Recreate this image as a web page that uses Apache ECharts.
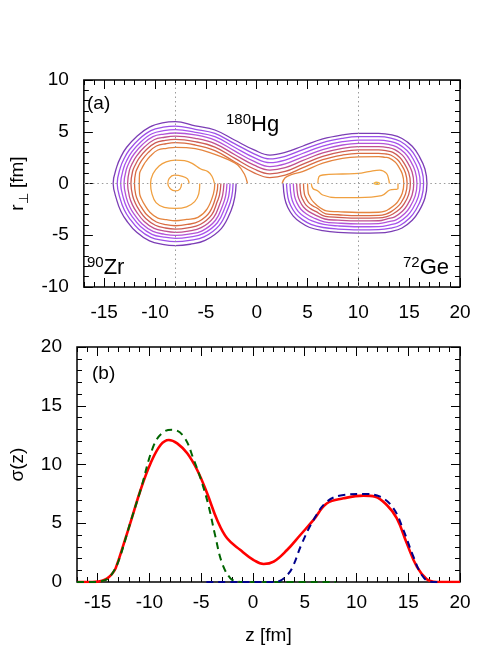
<!DOCTYPE html>
<html>
<head>
<meta charset="utf-8">
<script src="https://cdn.jsdelivr.net/npm/echarts@6/dist/echarts.min.js"></script>
<style>
html,body{margin:0;padding:0;background:#fff;}
#chart{width:479px;height:670px;}
</style>
</head>
<body>
<div id="chart"></div>
<script>
// ---------------- DATA ----------------
const zTicks = [-15, -10, -5, 0, 5, 10, 15, 20];
const rTicks = [-10, -5, 0, 5, 10];
const sigmaTicks = [0, 5, 10, 15, 20];
const guideZ = [-8, 10];
const guideR = [0];

// Panel (a): contour paths [z, r_perp] (outer -> inner)
const level1Path = [[-2.02,0],[-2.15,-1.3],[-2.5,-2.56],[-3.46,-4.33],[-5.07,-5.5],[-6.54,-5.87],[-8,-6.0],[-9.27,-5.88],[-10.54,-5.55],[-11.8,-4.72],[-12.79,-3.6],[-13.35,-2.7],[-13.75,-1.65],[-14.12,0],
 [-13.75,1.65],[-13.35,2.6],[-12.79,3.5],[-11.75,4.6],[-10.54,5.45],[-9.27,5.85],[-8,5.97],[-6.04,5.56],[-4.11,5.17],[-2.18,4.2],[-0.25,3.24],[1.3,2.75],[2.8,3.0],[4.5,3.6],[6.5,4.3],[8.43,4.69],[10,4.85],[12,4.85],
 [13.3,4.7],[14.3,4.35],[15.3,3.6],[15.95,2.7],[16.55,1.4],[16.75,0],
 [16.55,-1.4],[15.95,-2.7],[15.3,-3.55],[14.3,-4.3],[13.3,-4.62],[12,-4.78],[10,-4.8],[8,-4.72],[6.5,-4.55],[5.22,-4.25],[4.3,-3.75],[3.6,-3.15],[3.05,-2.3],[2.75,-1.4],[2.6,0]];
const level2Path = [[-2.32,0],[-2.45,-1.25],[-2.81,-2.38],[-3.68,-4.04],[-5.18,-5.16],[-6.59,-5.5],[-8,-5.62],[-9.2,-5.5],[-10.41,-5.21],[-11.6,-4.42],[-12.52,-3.36],[-13.03,-2.53],[-13.41,-1.54],[-13.72,0],
 [-13.41,1.54],[-13.03,2.43],[-12.52,3.26],[-11.55,4.3],[-10.41,5.11],[-9.2,5.44],[-8,5.55],[-6.04,5.24],[-4.11,4.84],[-2.18,3.85],[-0.25,2.87],[1.3,2.37],[2.8,2.63],[4.5,3.25],[6.5,3.96],[8.43,4.36],[10,4.52],[12,4.52],
 [13.2,4.39],[14.12,4.08],[15.05,3.38],[15.65,2.56],[16.23,1.33],[16.42,0],
 [16.23,-1.33],[15.65,-2.56],[15.05,-3.33],[14.12,-4.03],[13.2,-4.31],[12,-4.46],[10,-4.48],[8,-4.4],[6.55,-4.25],[5.34,-3.94],[4.5,-3.49],[3.85,-2.93],[3.35,-2.15],[3.07,-1.33],[2.93,0]];
const level3Path = [[-2.62,0],[-2.75,-1.21],[-3.08,-2.22],[-3.87,-3.79],[-5.27,-4.85],[-6.64,-5.18],[-8,-5.3],[-9.15,-5.18],[-10.3,-4.91],[-11.43,-4.16],[-12.28,-3.15],[-12.75,-2.38],[-13.1,-1.45],[-13.38,0],
 [-13.1,1.45],[-12.75,2.28],[-12.28,3.05],[-11.38,4.04],[-10.3,4.81],[-9.15,5.1],[-8,5.2],[-6.04,4.95],[-4.11,4.52],[-2.18,3.5],[-0.25,2.5],[1.3,2.01],[2.8,2.26],[4.5,2.9],[6.5,3.62],[8.43,4.04],[10,4.2],[12,4.2],
 [13.1,4.07],[13.94,3.8],[14.81,3.16],[15.36,2.42],[15.9,1.27],[16.09,0],
 [15.9,-1.27],[15.36,-2.42],[14.81,-3.11],[13.94,-3.75],[13.1,-3.99],[12,-4.16],[10,-4.18],[8,-4.1],[6.6,-3.96],[5.45,-3.62],[4.7,-3.21],[4.1,-2.71],[3.65,-2.0],[3.4,-1.27],[3.27,0]];
const level4Path = [[-2.92,0],[-3.05,-1.17],[-3.33,-2.07],[-4.05,-3.55],[-5.36,-4.57],[-6.68,-4.9],[-8,-5.02],[-9.1,-4.9],[-10.2,-4.63],[-11.26,-3.91],[-12.06,-2.95],[-12.49,-2.24],[-12.82,-1.36],[-13.05,0],
 [-12.82,1.36],[-12.49,2.14],[-12.06,2.85],[-11.21,3.79],[-10.2,4.53],[-9.1,4.78],[-8,4.88],[-6.04,4.69],[-4.11,4.2],[-2.18,3.15],[-0.25,2.13],[1.3,1.64],[2.8,1.89],[4.5,2.55],[6.5,3.28],[8.43,3.72],[10,3.88],[12,3.88],
 [13.01,3.77],[13.76,3.54],[14.57,2.95],[15.07,2.28],[15.59,1.2],[15.77,0],
 [15.59,-1.2],[15.07,-2.28],[14.57,-2.9],[13.76,-3.49],[13.01,-3.69],[12,-3.88],[10,-3.9],[8,-3.82],[6.65,-3.7],[5.57,-3.31],[4.9,-2.95],[4.35,-2.49],[3.95,-1.85],[3.72,-1.2],[3.6,0]];
const level5Path = [[-3.22,0],[-3.35,-1.12],[-3.6,-1.91],[-4.24,-3.29],[-5.46,-4.27],[-6.73,-4.6],[-8,-4.72],[-9.05,-4.6],[-10.09,-4.33],[-11.09,-3.64],[-11.82,-2.74],[-12.21,-2.09],[-12.52,-1.26],[-12.7,0],
 [-12.52,1.26],[-12.21,1.99],[-11.82,2.64],[-11.04,3.52],[-10.09,4.23],[-9.05,4.47],[-8,4.57],[-6.04,4.36],[-4.11,3.86],[-2.18,2.8],[-0.25,1.77],[1.3,1.3],[2.8,1.53],[4.5,2.2],[6.5,2.95],[8.43,3.4],[10,3.56],[12,3.56],
 [12.91,3.47],[13.59,3.27],[14.33,2.74],[14.78,2.14],[15.28,1.14],[15.45,0],
 [15.28,-1.14],[14.78,-2.14],[14.33,-2.69],[13.59,-3.22],[12.91,-3.39],[12,-3.6],[10,-3.62],[8,-3.54],[6.7,-3.43],[5.69,-3.0],[5.1,-2.69],[4.6,-2.27],[4.25,-1.7],[4.04,-1.13],[3.93,0]];
const level6Path = [[-3.52,0],[-3.65,-1.08],[-3.88,-1.75],[-4.43,-3.03],[-5.56,-3.96],[-6.78,-4.28],[-8,-4.4],[-8.98,-4.3],[-9.97,-4.03],[-10.91,-3.38],[-11.58,-2.53],[-11.92,-1.94],[-12.21,-1.16],[-12.37,0],
 [-12.21,1.16],[-11.92,1.84],[-11.58,2.43],[-10.86,3.26],[-9.97,3.93],[-8.98,4.17],[-8,4.27],[-6.04,4.04],[-4.11,3.52],[-2.18,2.45],[-0.25,1.4],[1.3,0.93],[2.8,1.16],[4.5,1.85],[6.5,2.62],[8.43,3.07],[10,3.24],[12,3.24],
 [12.81,3.15],[13.4,3.0],[14.08,2.52],[14.48,2.0],[14.95,1.07],[15.12,0],
 [14.95,-1.07],[14.48,-2.0],[14.08,-2.47],[13.4,-2.95],[12.81,-3.2],[12,-3.33],[10,-3.35],[8,-3.27],[6.75,-3.17],[5.8,-2.7],[5.29,-2.43],[4.84,-2.06],[4.54,-1.56],[4.35,-1.07],[4.25,0]];
const level7Path = [[-3.82,0],[-3.95,-1.03],[-4.63,-2.77],[-5.66,-3.65],[-6.83,-3.96],[-8,-4.08],[-8.93,-3.98],[-9.86,-3.72],[-10.73,-3.1],[-11.33,-2.31],[-11.63,-1.78],[-11.9,-1.07],[-12.02,0],
 [-11.9,1.07],[-11.63,1.68],[-11.33,2.21],[-10.68,2.98],[-9.86,3.62],[-8.93,3.84],[-8,3.94],[-6.04,3.72],[-4.11,3.18],[-2.18,2.1],[-0.25,1.03],[1.3,0.57],[2.8,0.8],[4.5,1.5],[6.5,2.3],[8.43,2.75],[10,2.92],[12,2.92],
 [12.72,2.85],[13.23,2.73],[13.84,2.31],[14.2,1.86],[14.64,1.01],[14.8,0],
 [14.64,-1.01],[14.2,-1.86],[13.84,-2.26],[13.23,-2.72],[12.72,-2.95],[12,-3.08],[10,-3.1],[8,-3.02],[6.8,-2.93],[5.92,-2.37],[5.5,-2.15],[5.1,-1.83],[4.85,-1.4],[4.69,-1.0],[4.6,0]];
const level8LeftPath = [[-0.9,0],[-1.2,0.9],[-1.86,1.79],[-2.8,2.3],[-4.11,2.82],[-6.04,3.38],[-8,3.5],[-8.86,3.4],[-9.72,3.24],[-10.46,2.65],[-11.03,1.95],[-11.28,1.5],[-11.52,0.95],[-11.55,0],
 [-11.52,-0.95],[-11.28,-1.6],[-11.03,-2.05],[-10.51,-2.77],[-9.72,-3.34],[-8.86,-3.5],[-8,-3.6],[-6.89,-3.47],[-5.78,-3.27],[-4.87,-2.45],[-4.25,-0.98],[-4.12,0]];
const level8RightPath = [[2.5,0],[2.8,0.55],[3.4,0.85],[4.5,1.15],[6.5,1.97],[8.43,2.43],[10,2.58],[12,2.6],[12.62,2.53],[13.05,2.46],[13.59,2.1],[13.9,1.72],[14.32,0.94],[14.47,0],
 [14.32,-0.94],[13.9,-1.72],[13.59,-2.05],[13.05,-2.45],[12.62,-2.68],[12,-2.78],[10,-2.8],[8,-2.72],[6.86,-2.65],[6.1,-2.25],[5.65,-1.85],[5.4,-1.57],[5.21,-1.22],[5.08,-0.92],[5.0,0]];
const level9LeftPath = [[-4.15,0],[-4.4,0.7],[-4.8,1.15],[-5.5,1.4],[-6.35,1.95],[-7.1,2.2],[-8,2.25],[-8.9,2.1],[-9.6,1.7],[-10.2,0.95],[-10.44,0],
 [-10.3,-1.0],[-9.9,-1.85],[-9.1,-2.3],[-8,-2.4],[-6.9,-2.25],[-6.1,-1.75],[-5.7,-1.0],[-5.6,0]];
const level9RightUpper = [[6.02,0],[6.12,0.66],[6.5,0.82],[8.43,0.92],[10,0.97],[11.03,1.14],[12.1,1.3],[12.77,0.98],[13.0,0.34],[13.05,0]];
const level9RightLower = [[5.37,0],[5.53,-0.48],[6.02,-0.72],[6.5,-1.11],[7.78,-1.37],[10,-1.37],[12.29,-1.18],[13.09,-0.63],[13.9,-0.48],[13.9,0]];
const level10LeftPath = [[-6.65,0],[-6.8,0.45],[-7.3,0.7],[-8.1,0.8],[-8.6,0.5],[-8.74,0],[-8.5,-0.5],[-8,-0.72],[-7.55,-0.55],[-7.38,0]];
const level10RightPath = [[11.5,0],[11.8,0.12],[12.1,0],[11.8,-0.08],[11.5,0]];

// Panel (b): sigma(z)
const sigmaTotal = [[-17,0],[-15.5,0],[-15,0.03],[-14.5,0.12],[-14.07,0.31],[-13.6,0.7],[-13.27,1.16],[-12.47,3.29],[-11.66,5.56],[-10.86,7.83],[-9.89,10.1],[-8.93,11.66],[-8.13,12.09],[-7.32,11.8],[-6.35,10.95],[-5.39,9.53],[-4.43,7.55],[-3.46,5.28],[-2.5,3.72],[-1.21,2.72],[0.07,1.87],[1.03,1.53],[2.0,1.73],[3.29,2.72],[4.57,4.0],[5.85,5.28],[7.15,6.7],[8.75,7.12],[10.68,7.35],[11.8,7.26],[12.93,6.55],[13.9,5.42],[14.86,3.29],[15.83,1.3],[16.79,0.23],[17.5,0.02],[18,0],[20,0]];
const sigmaZr = [[-17,0],[-15,0.01],[-14.5,0.1],[-14.07,0.26],[-13.5,0.85],[-12.95,1.87],[-11.82,5.13],[-10.86,7.83],[-9.57,11.66],[-8.61,12.79],[-7.8,12.96],[-6.68,12.37],[-5.71,10.38],[-4.91,8.4],[-4.27,6.41],[-3.63,3.86],[-2.98,1.59],[-2.18,0.31],[-1.54,0.05],[-1,0],[8,0]];
const sigmaGe = [[-4.5,0],[2.0,0],[2.64,0.11],[3.2,0.5],[3.77,1.16],[4.73,3.29],[5.85,5.28],[7.15,6.84],[8.75,7.4],[10.68,7.49],[12.29,7.26],[13.57,6.27],[14.53,4.43],[15.5,2.15],[16.31,0.6],[17.1,0.03],[18,0]];

// ---------------- STYLE ----------------
const FONT = '"Liberation Sans", Arial, Helvetica, sans-serif';
const levelColors = ['#7b3db5','#9d4fe8','#a753ec','#b353d8','#c0508f','#cd5c55','#d96c42','#e5853f','#f0a040','#f2b444'];
const contourPaths = [
  [level1Path,1],[level2Path,2],[level3Path,3],[level4Path,4],[level5Path,5],[level6Path,6],[level7Path,7],
  [level8LeftPath,8],[level8RightPath,8],[level9LeftPath,9],[level9RightUpper,9],[level9RightLower,9],
  [level10LeftPath,9],[level10RightPath,10]
];

function axisGroup(gridIndex, dim, min, max, majors, labelMargin, extra) {
  const isX = dim === 'x';
  const posA = isX ? 'bottom' : 'left';
  const posB = isX ? 'top' : 'right';
  const common = {
    gridIndex, type: 'value', min, max,
    axisLine: { show: false, onZero: false },
    splitLine: { show: false },
    silent: true
  };
  const tickStyle = { color: '#000', width: 1 };
  const major = (pos, showLabel) => Object.assign({}, common, {
    position: pos,
    interval: 5,
    axisTick: { show: true, inside: true, length: 9, customValues: majors, lineStyle: tickStyle },
    axisLabel: { show: showLabel, customValues: majors, margin: labelMargin, fontSize: 19, fontFamily: FONT, color: '#000' }
  }, showLabel ? (extra || {}) : {});
  const minor = (pos) => Object.assign({}, common, {
    position: pos,
    interval: 1,
    axisTick: { show: true, inside: true, length: 5, lineStyle: tickStyle },
    axisLabel: { show: false }
  });
  return [major(posA, true), minor(posA), major(posB, false), minor(posB)];
}

const xAxes = [].concat(
  axisGroup(0, 'x', -17, 20, zTicks, 16),
  axisGroup(1, 'x', -17, 20, zTicks, 11, {
    name: 'z [fm]', nameLocation: 'middle', nameGap: 44,
    nameTextStyle: { fontSize: 19, fontFamily: FONT, color: '#000' }
  })
);
const yAxes = [].concat(
  axisGroup(0, 'y', -10, 10, rTicks, 15, {
    name: '{a|r}{b|⊥}{a| [fm]}', nameLocation: 'middle', nameGap: 50,
    nameTextStyle: { fontSize: 19, fontFamily: FONT, color: '#000',
      rich: { a: { fontSize: 19, lineHeight: 26, fontFamily: FONT, color: '#000' },
              b: { fontSize: 13, lineHeight: 13, verticalAlign: 'bottom', fontFamily: FONT, color: '#000' } } }
  }),
  axisGroup(1, 'y', 0, 20, sigmaTicks, 15, {
    name: 'σ(z)', nameLocation: 'middle', nameGap: 50,
    nameTextStyle: { fontSize: 19, fontFamily: FONT, color: '#000' }
  })
);

const series = [];
series.push({
  type: 'line', xAxisIndex: 0, yAxisIndex: 0, data: [], z: 1, silent: true,
  markLine: {
    silent: true, symbol: ['none', 'none'], animation: false,
    label: { show: false },
    lineStyle: { color: '#9a9a9a', type: [1.5, 3], width: 1 },
    data: guideZ.map(v => ({ xAxis: v })).concat(guideR.map(v => ({ yAxis: v })))
  }
});
contourPaths.forEach(([pts, lvl]) => {
  series.push({
    type: 'line', xAxisIndex: 0, yAxisIndex: 0, z: 3,
    data: pts, smooth: 0.4, symbol: 'none', showSymbol: false, silent: true,
    lineStyle: { color: levelColors[lvl - 1], width: 1.3 },
    emphasis: { disabled: true }
  });
});
series.push({
  type: 'line', xAxisIndex: 4, yAxisIndex: 4, z: 3, data: sigmaTotal,
  smooth: 0.4, symbol: 'none', silent: true,
  lineStyle: { color: '#ff0000', width: 2.6 }
});
series.push({
  type: 'line', xAxisIndex: 4, yAxisIndex: 4, z: 4, data: sigmaZr,
  smooth: 0.4, symbol: 'none', silent: true,
  lineStyle: { color: '#006400', width: 2, type: [7, 5] }
});
series.push({
  type: 'line', xAxisIndex: 4, yAxisIndex: 4, z: 4, data: sigmaGe,
  smooth: 0.4, symbol: 'none', silent: true,
  lineStyle: { color: '#00008b', width: 2, type: [7, 5] }
});

const txt = (left, top, text, rich) => ({
  type: 'text', left, top, silent: true, z: 10,
  style: { text, fill: '#000', font: '19px ' + FONT, rich }
});
const supRich = {
  s: { fontSize: 15, lineHeight: 12, verticalAlign: 'top', fontFamily: FONT, fill: '#000', color: '#000' },
  b: { fontSize: 22, lineHeight: 26, fontFamily: FONT, fill: '#000', color: '#000' }
};

const option = {
  animation: false,
  backgroundColor: '#fff',
  grid: [
    { left: 76, top: 80, width: 384, height: 207, show: true, borderColor: '#000', borderWidth: 1.5, backgroundColor: 'rgba(0,0,0,0)' },
    { left: 76, top: 347, width: 384, height: 235, show: true, borderColor: '#000', borderWidth: 1.5, backgroundColor: 'rgba(0,0,0,0)' }
  ],
  xAxis: xAxes,
  yAxis: yAxes,
  series,
  graphic: [
    txt(87, 94, '(a)'),
    txt(92, 364, '(b)'),
    txt(226, 112, '{s|180}{b|Hg}', supRich),
    txt(87, 255, '{s|90}{b|Zr}', supRich),
    txt(403, 255, '{s|72}{b|Ge}', supRich)
  ]
};

const chart = echarts.init(document.getElementById('chart'), null, { renderer: 'canvas', width: 479, height: 670 });
chart.setOption(option);
</script>
</body>
</html>
